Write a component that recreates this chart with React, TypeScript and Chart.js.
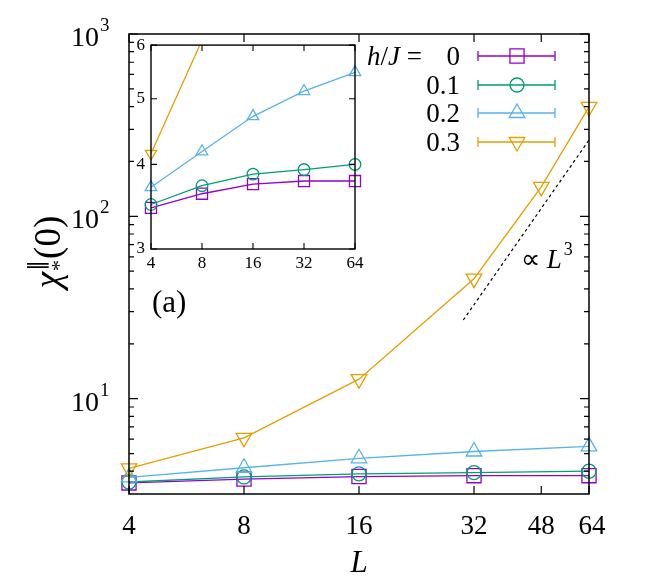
import React, { useEffect, useRef } from 'react';
import { Chart, registerables } from 'chart.js';

Chart.register(...registerables);

// ---- data ----
const L_VALUES = [4, 8, 16, 32, 64];
const L_VALUES_03 = [4, 8, 16, 32, 48, 64];
const CHI_H0 = [3.45, 3.62, 3.74, 3.78, 3.78];
const CHI_H01 = [3.49, 3.72, 3.87, 3.93, 4.0];
const CHI_H02 = [3.7, 4.18, 4.71, 5.13, 5.47];
const CHI_H03 = [4.15, 6.1, 12.8, 45.5, 145, 398];
const FIELD_LABELS = ['0', '0.1', '0.2', '0.3'];
const REF_L = [30, 64];
const REF_CHI = [27, 262];

const X_TICKS = [4, 8, 16, 32, 48, 64];
const Y_DECADES = [10, 100, 1000];
const INSET_X_TICKS = [4, 8, 16, 32, 64];
const INSET_Y_TICKS = [3, 4, 5, 6];

const COLORS = ['#9400d3', '#009e73', '#56b4e9', '#e69f00'];
const POINT_STYLES = ['rect', 'circle', 'triangle', 'triangle'];
const POINT_ROT = [0, 0, 0, 180];
const MAIN_RADII = [10, 7, 9, 9];
const INSET_RADII = [7.8, 5.8, 6.7, 6.5];

const SERIF = '"Liberation Serif", "Times New Roman", serif';

function seriesList() {
  return [
    { xs: L_VALUES, ys: CHI_H0 },
    { xs: L_VALUES, ys: CHI_H01 },
    { xs: L_VALUES, ys: CHI_H02 },
    { xs: L_VALUES_03, ys: CHI_H03 },
  ];
}

function drawMarker(ctx: CanvasRenderingContext2D, i: number, x: number, y: number, r: number) {
  ctx.save();
  ctx.strokeStyle = COLORS[i];
  ctx.lineWidth = 1.3;
  ctx.beginPath();
  const style = POINT_STYLES[i];
  if (style === 'rect') {
    const s = r * Math.SQRT1_2;
    ctx.rect(x - s, y - s, 2 * s, 2 * s);
  } else if (style === 'circle') {
    ctx.arc(x, y, r, 0, Math.PI * 2);
  } else {
    let a = (POINT_ROT[i] * Math.PI) / 180;
    ctx.moveTo(x + Math.sin(a) * r, y - Math.cos(a) * r);
    for (let k = 0; k < 2; k++) {
      a += (2 * Math.PI) / 3;
      ctx.lineTo(x + Math.sin(a) * r, y - Math.cos(a) * r);
    }
    ctx.closePath();
  }
  ctx.stroke();
  ctx.restore();
}

const mainDecor = {
  id: 'mainDecor',
  afterDraw(chart: any) {
    const ctx: CanvasRenderingContext2D = chart.ctx;
    const { left, right, top, bottom } = chart.chartArea;
    const xs = chart.scales.x;
    const ys = chart.scales.y;
    ctx.save();
    ctx.strokeStyle = '#000';
    ctx.fillStyle = '#000';
    ctx.lineWidth = 1.5;
    ctx.strokeRect(left, top, right - left, bottom - top);

    // x ticks
    ctx.lineWidth = 1.2;
    ctx.font = `27px ${SERIF}`;
    ctx.textAlign = 'center';
    ctx.textBaseline = 'alphabetic';
    X_TICKS.forEach((v) => {
      const px = xs.getPixelForValue(v);
      ctx.beginPath();
      ctx.moveTo(px, bottom);
      ctx.lineTo(px, bottom - 8);
      ctx.moveTo(px, top);
      ctx.lineTo(px, top + 8);
      ctx.stroke();
      ctx.fillText(String(v), px + (v === 64 ? 3 : 0), 534);
    });

    // y ticks
    const yMin = ys.min;
    const yMax = ys.max;
    for (let dec = 1; dec <= 100; dec *= 10) {
      for (let m = 2; m <= 9; m++) {
        const v = m * dec;
        if (v <= yMin || v >= yMax) continue;
        const py = ys.getPixelForValue(v);
        ctx.beginPath();
        ctx.moveTo(left, py);
        ctx.lineTo(left + 5, py);
        ctx.moveTo(right, py);
        ctx.lineTo(right - 5, py);
        ctx.stroke();
      }
    }
    Y_DECADES.forEach((v) => {
      const py = ys.getPixelForValue(v);
      ctx.beginPath();
      ctx.moveTo(left, py);
      ctx.lineTo(left + 9, py);
      ctx.moveTo(right, py);
      ctx.lineTo(right - 9, py);
      ctx.stroke();
      const exp = String(Math.round(Math.log10(v)));
      ctx.font = `28px ${SERIF}`;
      ctx.textAlign = 'right';
      ctx.fillText('10', 99, py + 12);
      ctx.font = `19px ${SERIF}`;
      ctx.textAlign = 'left';
      ctx.fillText(exp, 100, py - 3);
    });

    // x title
    ctx.font = `italic 31px ${SERIF}`;
    ctx.textAlign = 'center';
    ctx.fillText('L', (left + right) / 2, 572);

    // y title (rotated)
    ctx.save();
    const chiFont = `italic 37px ${SERIF}`;
    const parenFont = `37px ${SERIF}`;
    const smallFont = `22px ${SERIF}`;
    ctx.font = chiFont;
    const wChi = ctx.measureText('χ').width;
    ctx.font = parenFont;
    const wParen = ctx.measureText('(0)').width;
    ctx.font = smallFont;
    const wSup = Math.max(ctx.measureText('∥').width, ctx.measureText('*').width);
    const total = wChi + wSup + 2 + wParen;
    ctx.translate(60, 252 + total / 2);
    ctx.rotate(-Math.PI / 2);
    ctx.textAlign = 'left';
    ctx.font = chiFont;
    ctx.fillText('χ', 0, 0);
    ctx.font = smallFont;
    ctx.fillText('∥', wChi + 1, -16);
    ctx.fillText('*', wChi + 1, 6);
    ctx.font = parenFont;
    ctx.fillText('(0)', wChi + wSup + 2, 0);
    ctx.restore();

    // (a)
    ctx.font = `31px ${SERIF}`;
    ctx.textAlign = 'left';
    ctx.fillText('(a)', 152, 312);

    // ∝ L^3
    ctx.font = `27px ${SERIF}`;
    ctx.fillText('∝', 521, 268);
    const wProp = ctx.measureText('∝ ').width;
    ctx.font = `italic 27px ${SERIF}`;
    ctx.fillText('L', 521 + wProp, 268);
    const wL = ctx.measureText('L').width;
    ctx.font = `18px ${SERIF}`;
    ctx.fillText('3', 521 + wProp + wL + 2, 255);

    // legend
    const rowsY = [56, 85, 113, 142];
    let cx = 367;
    const headY = rowsY[0] + 9;
    ctx.font = `italic 27px ${SERIF}`;
    ctx.fillText('h', cx, headY);
    cx += ctx.measureText('h').width;
    ctx.font = `27px ${SERIF}`;
    ctx.fillText('/', cx, headY);
    cx += ctx.measureText('/').width;
    ctx.font = `italic 27px ${SERIF}`;
    ctx.fillText('J', cx, headY);
    cx += ctx.measureText('J').width;
    ctx.font = `27px ${SERIF}`;
    ctx.fillText(' =', cx, headY);
    ctx.textAlign = 'right';
    FIELD_LABELS.forEach((lab, i) => {
      const y = rowsY[i];
      ctx.fillStyle = '#000';
      ctx.font = `27px ${SERIF}`;
      ctx.fillText(lab, 460, y + 9);
      ctx.strokeStyle = COLORS[i];
      ctx.lineWidth = 1.3;
      ctx.beginPath();
      ctx.moveTo(478, y);
      ctx.lineTo(555, y);
      ctx.moveTo(478, y - 5);
      ctx.lineTo(478, y + 5);
      ctx.moveTo(555, y - 5);
      ctx.lineTo(555, y + 5);
      ctx.stroke();
      drawMarker(ctx, i, 517, y, MAIN_RADII[i]);
    });
    ctx.restore();
  },
};

const insetDecor = {
  id: 'insetDecor',
  afterDraw(chart: any) {
    const ctx: CanvasRenderingContext2D = chart.ctx;
    const { left, right, top, bottom } = chart.chartArea;
    const xs = chart.scales.x;
    const ys = chart.scales.y;
    ctx.save();
    ctx.strokeStyle = '#000';
    ctx.fillStyle = '#000';
    ctx.lineWidth = 1.4;
    ctx.strokeRect(left, top, right - left, bottom - top);
    ctx.lineWidth = 1.1;
    ctx.font = `17px ${SERIF}`;
    ctx.textAlign = 'center';
    ctx.textBaseline = 'alphabetic';
    INSET_X_TICKS.forEach((v) => {
      const px = xs.getPixelForValue(v);
      ctx.beginPath();
      ctx.moveTo(px, bottom);
      ctx.lineTo(px, bottom - 6);
      ctx.moveTo(px, top);
      ctx.lineTo(px, top + 6);
      ctx.stroke();
      ctx.fillText(String(v), px, bottom + 19);
    });
    ctx.textAlign = 'right';
    ctx.textBaseline = 'middle';
    INSET_Y_TICKS.forEach((v) => {
      const py = ys.getPixelForValue(v);
      ctx.beginPath();
      ctx.moveTo(left, py);
      ctx.lineTo(left + 6, py);
      ctx.moveTo(right, py);
      ctx.lineTo(right - 6, py);
      ctx.stroke();
      ctx.fillText(String(v), left - 6, py);
    });
    ctx.restore();
  },
};

function makeDatasets(radii: number[], yMax: number | null) {
  const list = seriesList().map((s, i) => ({
    label: FIELD_LABELS[i],
    data: s.xs.map((x, k) => ({ x, y: s.ys[k] })),
    borderColor: COLORS[i],
    backgroundColor: 'rgba(0,0,0,0)',
    borderWidth: 1.3,
    pointStyle: POINT_STYLES[i],
    pointRotation: POINT_ROT[i],
    pointRadius: yMax == null ? radii[i] : s.ys.map((v) => (v <= yMax ? radii[i] : 0)),
    pointBorderWidth: 1.3,
    pointBorderColor: COLORS[i],
    pointBackgroundColor: 'rgba(0,0,0,0)',
    tension: 0,
    fill: false,
    clip: yMax == null ? false : { left: 12, right: 12, top: 0, bottom: 12 },
  }));
  return list;
}

export default function App() {
  const mainRef = useRef<HTMLCanvasElement | null>(null);
  const insetRef = useRef<HTMLCanvasElement | null>(null);

  useEffect(() => {
    const mainDatasets: any[] = makeDatasets(MAIN_RADII, null).reverse();
    mainDatasets.push({
      label: 'ref',
      data: REF_L.map((x, k) => ({ x, y: REF_CHI[k] })),
      borderColor: '#000',
      borderWidth: 1.2,
      borderDash: [3, 3],
      pointRadius: 0,
      fill: false,
      clip: false,
    });
    const main = new Chart(mainRef.current as HTMLCanvasElement, {
      type: 'line',
      data: { datasets: mainDatasets },
      options: {
        responsive: false,
        animation: false,
        devicePixelRatio: 1,
        layout: { padding: { left: 129, top: 34, right: 75, bottom: 87 } },
        scales: {
          x: { type: 'logarithmic', min: 4, max: 64, display: false },
          y: { type: 'logarithmic', min: 3, max: 1000, display: false },
        },
        plugins: { legend: { display: false }, tooltip: { enabled: false } },
        events: [],
      },
      plugins: [mainDecor],
    } as any);

    const inset = new Chart(insetRef.current as HTMLCanvasElement, {
      type: 'line',
      data: { datasets: makeDatasets(INSET_RADII, 6).reverse() },
      options: {
        responsive: false,
        animation: false,
        devicePixelRatio: 1,
        layout: { padding: { left: 31, top: 9, right: 25, bottom: 37 } },
        scales: {
          x: { type: 'logarithmic', min: 4, max: 64, display: false },
          y: { type: 'logarithmic', min: 3, max: 6, display: false },
        },
        plugins: { legend: { display: false }, tooltip: { enabled: false } },
        events: [],
      },
      plugins: [insetDecor],
    } as any);

    return () => {
      main.destroy();
      inset.destroy();
    };
  }, []);

  return (
    <div style={{ position: 'absolute', left: 0, top: 0, width: 664, height: 581, background: '#fff' }}>
      <canvas ref={mainRef} width={664} height={581} style={{ position: 'absolute', left: 0, top: 0 }} />
      <canvas ref={insetRef} width={260} height={250} style={{ position: 'absolute', left: 120, top: 36 }} />
    </div>
  );
}
